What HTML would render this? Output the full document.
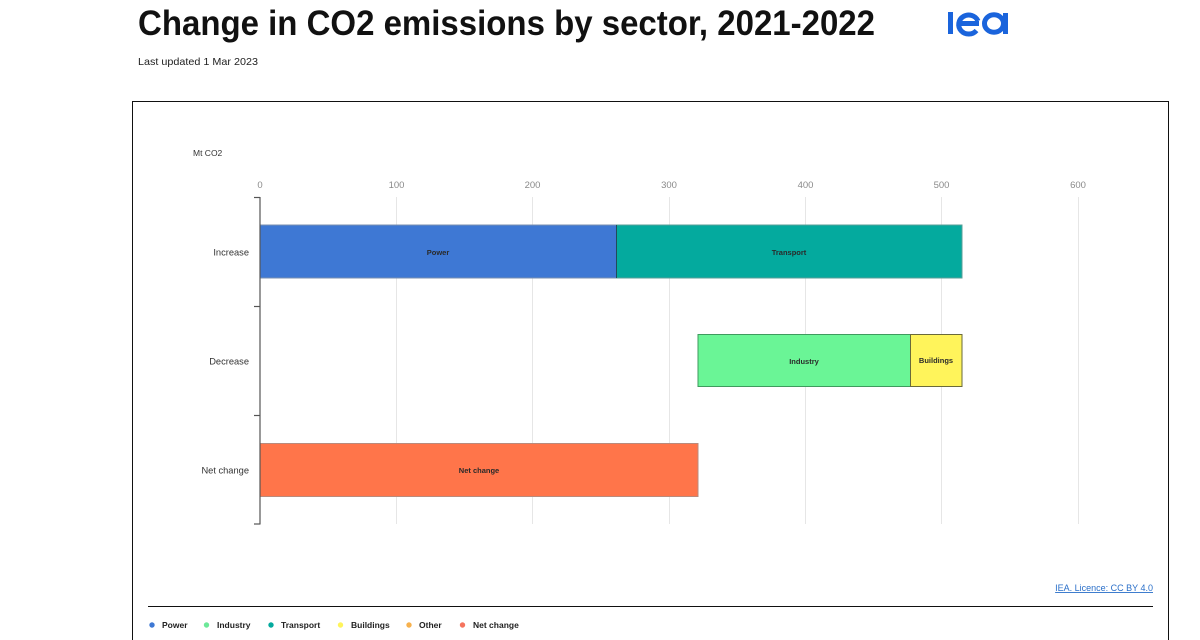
<!DOCTYPE html>
<html>
<head>
<meta charset="utf-8">
<style>
  html,body{margin:0;padding:0;background:#fff;}
  body{width:1200px;height:640px;overflow:hidden;}
  svg{display:block;font-family:"Liberation Sans",sans-serif;}
</style>
</head>
<body>
<svg width="1200" height="640" viewBox="0 0 1200 640" xmlns="http://www.w3.org/2000/svg">
  <!-- Title -->
  <text x="138" y="35" font-size="35" font-weight="bold" fill="#111" textLength="737" lengthAdjust="spacingAndGlyphs">Change in CO2 emissions by sector, 2021-2022</text>
  <text x="138" y="65" font-size="10.5" fill="#222" textLength="120" lengthAdjust="spacingAndGlyphs">Last updated 1 Mar 2023</text>

  <!-- IEA logo -->
  <rect x="948" y="12" width="5" height="22" fill="#1a64dc"/>
  <g fill="none" stroke="#1a64dc" stroke-width="5">
    <path d="M976.5 30.5 A10 9.5 0 1 1 978 21"/>
    <line x1="957" y1="23.5" x2="979" y2="23.5"/>
    <ellipse cx="994" cy="23.5" rx="9.5" ry="8.8"/>
  </g>
  <rect x="1003" y="13" width="5" height="21" fill="#1a64dc"/>

  <!-- Frame -->
  <rect x="132.5" y="101.5" width="1036" height="560" fill="none" stroke="#111" stroke-width="1"/>

  <!-- Unit -->
  <text x="193" y="156" font-size="8.5" fill="#333">Mt CO2</text>

  <!-- Gridlines -->
  <g stroke="#e6e6e6" stroke-width="1">
    <line x1="396.5" y1="197" x2="396.5" y2="524"/>
    <line x1="532.5" y1="197" x2="532.5" y2="524"/>
    <line x1="669.5" y1="197" x2="669.5" y2="524"/>
    <line x1="805.5" y1="197" x2="805.5" y2="524"/>
    <line x1="941.5" y1="197" x2="941.5" y2="524"/>
    <line x1="1078.5" y1="197" x2="1078.5" y2="524"/>
  </g>

  <!-- X tick labels -->
  <g font-size="9.5" fill="#8a8a8a" text-anchor="middle">
    <text x="260" y="188">0</text>
    <text x="396.5" y="188">100</text>
    <text x="532.5" y="188">200</text>
    <text x="669" y="188">300</text>
    <text x="805.5" y="188">400</text>
    <text x="941.5" y="188">500</text>
    <text x="1078" y="188">600</text>
  </g>

  <!-- Bars -->
  <g stroke-width="1">
    <rect x="260" y="225" width="356.5" height="53" fill="#3e78d4" stroke="#7a8fb0"/>
    <rect x="616.5" y="225" width="345.5" height="53" fill="#04aa9e" stroke="#5a9f98"/>
    <line x1="616.5" y1="225" x2="616.5" y2="278" stroke="#234a5a"/>
    <rect x="698" y="334.5" width="212.5" height="52" fill="#6af596" stroke="#3f9a5e"/>
    <rect x="910.5" y="334.5" width="51.5" height="52" fill="#fff45b" stroke="#6a6a3a"/>
    <rect x="260" y="443.5" width="438" height="53" fill="#ff754a" stroke="#b98a7c"/>
  </g>

  <!-- Bar labels -->
  <g font-size="7.5" font-weight="bold" fill="#2a2a2a" text-anchor="middle">
    <text x="438" y="255">Power</text>
    <text x="789" y="255">Transport</text>
    <text x="804" y="364">Industry</text>
    <text x="936" y="363">Buildings</text>
    <text x="479" y="473">Net change</text>
  </g>

  <!-- Y axis -->
  <g stroke="#555" stroke-width="1.2">
    <line x1="260" y1="197" x2="260" y2="524.5"/>
    <line x1="254" y1="197.5" x2="260" y2="197.5"/>
    <line x1="254" y1="306.5" x2="260" y2="306.5"/>
    <line x1="254" y1="415.5" x2="260" y2="415.5"/>
    <line x1="254" y1="524" x2="260" y2="524"/>
  </g>
  <g font-size="9.3" fill="#333" text-anchor="end">
    <text x="249" y="255.5">Increase</text>
    <text x="249" y="364.5">Decrease</text>
    <text x="249" y="473.5">Net change</text>
  </g>

  <!-- Credit -->
  <text x="1153" y="591" font-size="9" fill="#2a6fc9" text-anchor="end" text-decoration="underline">IEA. Licence: CC BY 4.0</text>

  <!-- Separator -->
  <line x1="148" y1="606.5" x2="1153" y2="606.5" stroke="#111" stroke-width="1"/>

  <!-- Legend -->
  <g font-size="8.5" font-weight="bold" fill="#222">
    <circle cx="152" cy="625" r="2.7" fill="#3e78d4"/>
    <text x="162" y="628">Power</text>
    <circle cx="206.5" cy="625" r="2.7" fill="#6de899"/>
    <text x="217" y="628">Industry</text>
    <circle cx="271" cy="625" r="2.7" fill="#04aa9e"/>
    <text x="281" y="628">Transport</text>
    <circle cx="340.5" cy="625" r="2.7" fill="#fff45b"/>
    <text x="351" y="628">Buildings</text>
    <circle cx="409" cy="625" r="2.7" fill="#f7b14d"/>
    <text x="419" y="628">Other</text>
    <circle cx="462.5" cy="625" r="2.7" fill="#f5745e"/>
    <text x="473" y="628">Net change</text>
  </g>
</svg>
</body>
</html>
